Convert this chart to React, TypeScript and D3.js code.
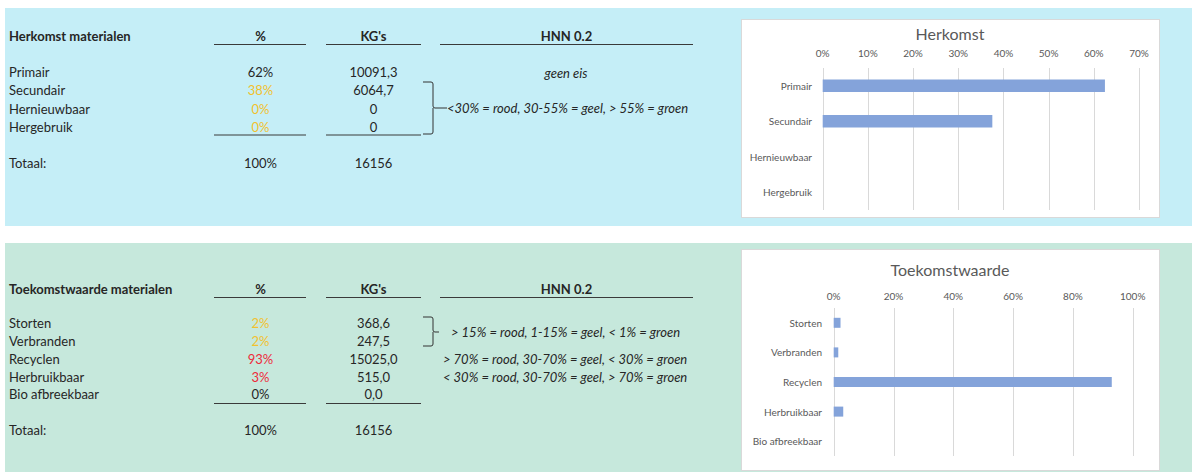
import React from "react";
import * as d3 from "d3";

// ---------- Data ----------
const herkomstCategories = ["Primair", "Secundair", "Hernieuwbaar", "Hergebruik"];
const herkomstPct = ["62%", "38%", "0%", "0%"];
const herkomstPctColor = ["dark", "yellow", "yellow", "yellow"];
const herkomstKg = ["10091,3", "6064,7", "0", "0"];
const herkomstValues = [0.6246, 0.3754, 0, 0];
const herkomstTicks = [0, 0.1, 0.2, 0.3, 0.4, 0.5, 0.6, 0.7];
const herkomstTotaalPct = "100%";
const herkomstTotaalKg = "16156";

const toekomstCategories = ["Storten", "Verbranden", "Recyclen", "Herbruikbaar", "Bio afbreekbaar"];
const toekomstPct = ["2%", "2%", "93%", "3%", "0%"];
const toekomstPctColor = ["yellow", "yellow", "red", "red", "dark"];
const toekomstKg = ["368,6", "247,5", "15025,0", "515,0", "0,0"];
const toekomstValues = [0.0228, 0.0153, 0.93, 0.0319, 0];
const toekomstTicks = [0, 0.2, 0.4, 0.6, 0.8, 1.0];
const toekomstTotaalPct = "100%";
const toekomstTotaalKg = "16156";

const herkomstRules = ["geen eis", "<30% = rood, 30-55% = geel, > 55% = groen"];
const toekomstRules = [
  "> 15% = rood, 1-15% = geel, < 1% = groen",
  "> 70% = rood, 30-70% = geel, < 30% = groen",
  "< 30% = rood, 30-70% = geel, > 70% = groen",
];

// ---------- Styles ----------
const FONT = "Lato, 'Open Sans', sans-serif";
const TXT = "#262626";
const COLORS: Record<string, string> = { dark: "#262626", yellow: "#F2C12E", red: "#EE2B3B" };
const BAR = "#84A3DA";
const AXIS_TXT = "#595959";
const GRID = "#D9D9D9";
const TFS = 13;

type ChartProps = {
  x0: number; y0: number; w: number; h: number;
  title: string; titleY: number; tickY: number;
  plotLeft: number; plotRight: number; plotTop: number; plotBottom: number;
  categories: string[]; values: number[]; ticks: number[]; maxV: number;
  barH: number; labelX: number;
};

function BarChart(p: ChartProps) {
  const x = d3.scaleLinear().domain([0, p.maxV]).range([p.plotLeft, p.plotRight]);
  const y = d3.scaleBand().domain(p.categories).range([p.plotTop, p.plotBottom]);
  const fmt = d3.format(".0%");
  return (
    <g>
      <rect x={p.x0 + 0.5} y={p.y0 + 0.5} width={p.w} height={p.h} fill="#ffffff" stroke="#D9D9D9" />
      <text x={(p.x0 + p.x0 + p.w) / 2} y={p.titleY} textAnchor="middle" dominantBaseline="central"
        fontFamily={FONT} fontSize={16} fill={AXIS_TXT}>{p.title}</text>
      {p.ticks.map((t) => (
        <g key={t}>
          <line x1={Math.round(x(t)) + 0.5} x2={Math.round(x(t)) + 0.5} y1={p.plotTop} y2={p.plotBottom} stroke={GRID} strokeWidth={1} />
          <text x={x(t)} y={p.tickY} textAnchor="middle" dominantBaseline="central" fontFamily={FONT} fontSize={10} fill={AXIS_TXT}>{fmt(t)}</text>
        </g>
      ))}
      {p.categories.map((c, i) => {
        const cy = (y(c) as number) + y.bandwidth() / 2;
        return (
          <g key={c}>
            {p.values[i] > 0 && (
              <rect x={x(0)} y={cy - p.barH / 2} width={x(p.values[i]) - x(0)} height={p.barH} fill={BAR} />
            )}
            <text x={p.labelX} y={cy} textAnchor="end" dominantBaseline="central" fontFamily={FONT} fontSize={10} fill={AXIS_TXT}>{c}</text>
          </g>
        );
      })}
    </g>
  );
}

type TableProps = {
  title: string; headerY: number; lineY: number; rowY0: number; rowStep: number;
  categories: string[]; pct: string[]; pctColor: string[]; kg: string[];
  bottomLineY: number; totaalY: number; totPct: string; totKg: string;
};

function Table(p: TableProps) {
  return (
    <g fontFamily={FONT} fontSize={TFS} fill={TXT}>
      <text x={9} y={p.headerY} dominantBaseline="central" fontWeight="bold">{p.title}</text>
      <text x={260.5} y={p.headerY} textAnchor="middle" dominantBaseline="central" fontWeight="bold">%</text>
      <text x={373.5} y={p.headerY} textAnchor="middle" dominantBaseline="central" fontWeight="bold">KG's</text>
      <text x={566.5} y={p.headerY} textAnchor="middle" dominantBaseline="central" fontWeight="bold">HNN 0.2</text>
      <line x1={214} x2={306} y1={p.lineY} y2={p.lineY} stroke="#3a3a3a" strokeWidth={1.2} />
      <line x1={326} x2={421} y1={p.lineY} y2={p.lineY} stroke="#3a3a3a" strokeWidth={1.2} />
      <line x1={440} x2={693} y1={p.lineY} y2={p.lineY} stroke="#3a3a3a" strokeWidth={1.2} />
      {p.categories.map((c, i) => {
        const yy = p.rowY0 + i * p.rowStep;
        return (
          <g key={c}>
            <text x={9} y={yy} dominantBaseline="central">{c}</text>
            <text x={260.5} y={yy} textAnchor="middle" dominantBaseline="central" fill={COLORS[p.pctColor[i]]}>{p.pct[i]}</text>
            <text x={373.5} y={yy} textAnchor="middle" dominantBaseline="central">{p.kg[i]}</text>
          </g>
        );
      })}
      <line x1={214} x2={306} y1={p.bottomLineY} y2={p.bottomLineY} stroke="#3a3a3a" strokeWidth={1.2} />
      <line x1={326} x2={421} y1={p.bottomLineY} y2={p.bottomLineY} stroke="#3a3a3a" strokeWidth={1.2} />
      <text x={9} y={p.totaalY} dominantBaseline="central">Totaal:</text>
      <text x={260.5} y={p.totaalY} textAnchor="middle" dominantBaseline="central">{p.totPct}</text>
      <text x={373.5} y={p.totaalY} textAnchor="middle" dominantBaseline="central">{p.totKg}</text>
    </g>
  );
}

export default function App() {
  return (
    <div style={{ position: "fixed", left: 0, top: 0 }}>
      <svg width={1192} height={472} style={{ display: "block" }}>
        <rect x={0} y={0} width={1192} height={472} fill="#ffffff" />
        <rect x={5} y={8} width={1187} height={218} fill="#C5EEF7" />
        <rect x={5} y={243} width={1187} height={229} fill="#C6E8DC" />

        <Table title="Herkomst materialen" headerY={36} lineY={44.5} rowY0={72} rowStep={18.3}
          categories={herkomstCategories} pct={herkomstPct} pctColor={herkomstPctColor} kg={herkomstKg}
          bottomLineY={135} totaalY={163} totPct={herkomstTotaalPct} totKg={herkomstTotaalKg} />
        <g fontFamily={FONT} fontSize={TFS} fill={TXT} fontStyle="italic">
          <text x={566} y={73} textAnchor="middle" dominantBaseline="central">{herkomstRules[0]}</text>
          <text x={447} y={108} dominantBaseline="central">{herkomstRules[1]}</text>
        </g>
        <path d="M423,82 L431,82 Q433,82 433,84 L433,106 Q433,108 435,108 L447,108 M433,108 L433,132 Q433,134 431,134 L423,134"
          fill="none" stroke="#333" strokeWidth={1} />

        <Table title="Toekomstwaarde materialen" headerY={289} lineY={297.5} rowY0={323.3} rowStep={17.75}
          categories={toekomstCategories} pct={toekomstPct} pctColor={toekomstPctColor} kg={toekomstKg}
          bottomLineY={403.5} totaalY={430} totPct={toekomstTotaalPct} totKg={toekomstTotaalKg} />
        <g fontFamily={FONT} fontSize={TFS} fill={TXT} fontStyle="italic">
          <text x={451} y={332} dominantBaseline="central">{toekomstRules[0]}</text>
          <text x={443} y={358.5} dominantBaseline="central">{toekomstRules[1]}</text>
          <text x={443} y={376.7} dominantBaseline="central">{toekomstRules[2]}</text>
        </g>
        <path d="M423,317 L431,317 Q433,317 433,319 L433,330 Q433,332 435,332 L439,332 M433,332 L433,344 Q433,346 431,346 L423,346"
          fill="none" stroke="#333" strokeWidth={1} />

        <BarChart x0={741} y0={19} w={418} h={198} title="Herkomst" titleY={33} tickY={53}
          plotLeft={822.7} plotRight={1139} plotTop={68} plotBottom={210}
          categories={herkomstCategories} values={herkomstValues} ticks={herkomstTicks} maxV={0.7}
          barH={12.5} labelX={812} />
        <BarChart x0={741} y0={249} w={418} h={221} title="Toekomstwaarde" titleY={269} tickY={296}
          plotLeft={833.7} plotRight={1132.7} plotTop={308} plotBottom={456}
          categories={toekomstCategories} values={toekomstValues} ticks={toekomstTicks} maxV={1.0}
          barH={10} labelX={822} />
      </svg>
    </div>
  );
}
